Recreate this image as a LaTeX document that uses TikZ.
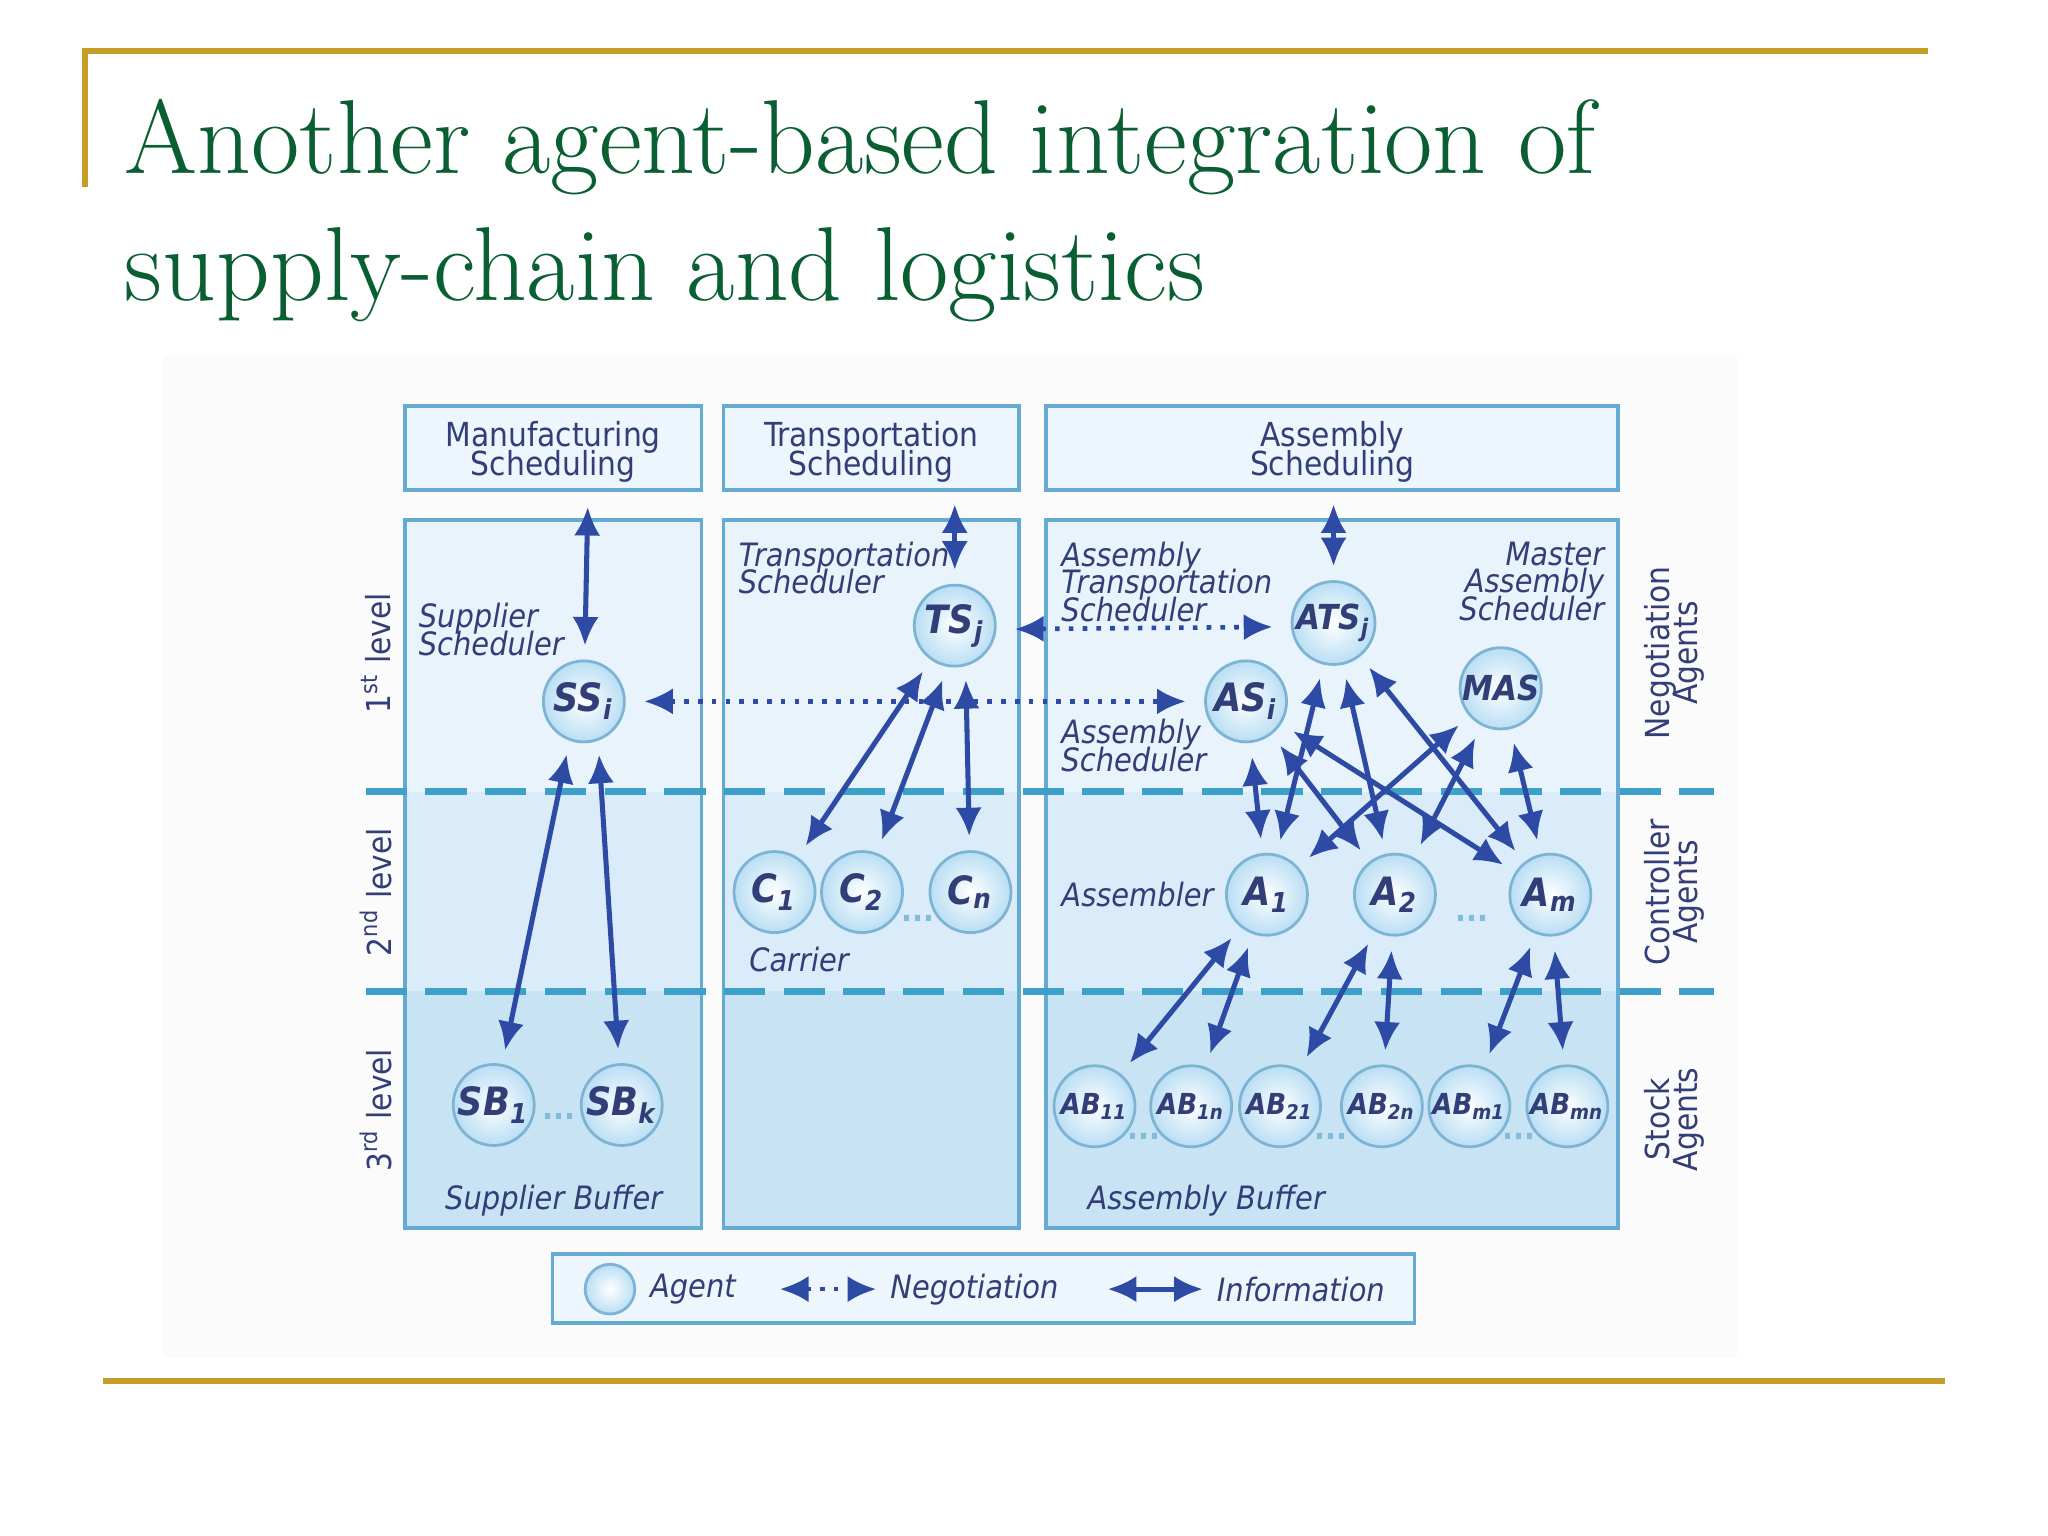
\documentclass[tikz,border=0pt]{standalone}
\usepackage{fontspec}
\newfontfamily\dsans{DejaVu Sans Condensed}
\usetikzlibrary{arrows.meta}
\definecolor{gold}{RGB}{196,158,40}
\definecolor{tgreen}{RGB}{10,95,50}
\definecolor{navy}{RGB}{50,62,120}
\definecolor{arr}{RGB}{45,75,165}
\definecolor{bord}{RGB}{100,170,210}
\definecolor{hdr}{RGB}{236,246,252}
\definecolor{lone}{RGB}{232,243,251}
\definecolor{ltwo}{RGB}{218,236,249}
\definecolor{lthree}{RGB}{200,227,244}
\definecolor{dashcol}{RGB}{60,160,200}
\definecolor{agfill}{RGB}{185,222,244}
\definecolor{agbord}{RGB}{125,180,212}
\tikzset{
 agent/.style={circle,draw=agbord,line width=0.6pt,inner color=white,outer color=agfill,minimum size=0.62cm,inner sep=0pt,font=\dsans\bfseries\itshape\fontsize{8.5}{9}\selectfont,text=navy},
 smallagent/.style={agent,font=\dsans\bfseries\itshape\fontsize{6.3}{7}\selectfont},
 hbox/.style={draw=bord,line width=0.8pt,fill=hdr},
 lbl/.style={font=\dsans\itshape\fontsize{7}{7}\selectfont,text=navy,inner sep=0pt,align=left},
 hlbl/.style={font=\dsans\fontsize{7.2}{7.2}\selectfont,text=navy,inner sep=0pt,align=center},
 side/.style={font=\dsans\fontsize{7.2}{7.2}\selectfont,text=navy,inner sep=0pt,align=center,rotate=90},
 info/.style={draw=arr,line width=1.1pt,{Latex[length=2.2mm,width=2mm]}-{Latex[length=2.2mm,width=2mm]},shorten <=3pt,shorten >=3pt},
 nego/.style={draw=arr,line width=1pt,dotted,{Latex[length=2.2mm,width=2mm]}-{Latex[length=2.2mm,width=2mm]},shorten <=4pt,shorten >=4pt},
 dots/.style={font=\dsans\bfseries\fontsize{7}{7}\selectfont,text=bord!80!white,inner sep=0pt},
 levelline/.style={dashcol,line width=1.6pt,dash pattern=on 9pt off 4pt}
}
\begin{document}
\begin{tikzpicture}[x=0.01cm,y=-0.01cm]
\useasboundingbox (0,0) rectangle (1568,1176);
\fill[white] (0,0) rectangle (1568,1176);
% frame lines
\draw[gold,line width=1.3pt] (65,143) -- (65,39) -- (1476,39);
\draw[gold,line width=1.3pt] (79,1057) -- (1489,1057);
% title
\node[anchor=base west,inner sep=0pt,text=tgreen,font=\fontsize{22.9}{28}\selectfont] (t1) at (95,133) {Another agent-based integration of};
\node[anchor=base west,inner sep=0pt,text=tgreen,font=\fontsize{22.9}{28}\selectfont] (t2) at (95,230) {supply-chain and logistics};
% faint background
\fill[black!1.5] (125,272) rectangle (1330,1040);
% header boxes
\draw[hbox] (310,311) rectangle (537,375);
\draw[hbox] (554,311) rectangle (780,375);
\draw[hbox] (801,311) rectangle (1239,375);
\node[hlbl] (mfg) at (423.5,346) {Manufacturing\\[-1pt]Scheduling};
\node[hlbl] (trs) at (667,346) {Transportation\\[-1pt]Scheduling};
\node[hlbl] (asm) at (1020,346) {Assembly\\[-1pt]Scheduling};
\coordinate (mfgb) at (450,388);
\coordinate (trsb) at (731,386);
\coordinate (asmb) at (1021,386);
% columns
\foreach \a/\b in {310/537,554/780,801/1239}{
 \fill[lone] (\a,398) rectangle (\b,606);
 \fill[ltwo] (\a,606) rectangle (\b,759);
 \fill[lthree] (\a,759) rectangle (\b,940);
 \draw[bord,line width=0.8pt] (\a,398) rectangle (\b,940);
}
% dashed level lines
\draw[levelline] (280,606) -- (1312,606);
\draw[levelline] (280,759) -- (1312,759);
% side labels
\node[side] (l1) at (288,500) {1\textsuperscript{st} level};
\node[side] (l2) at (288,683) {2\textsuperscript{nd} level};
\node[side] (l3) at (288,850) {3\textsuperscript{rd} level};
\node[side] (r1) at (1282,500) {Negotiation\\[-1pt]Agents};
\node[side] (r2) at (1282,683) {Controller\\[-1pt]Agents};
\node[side] (r3) at (1282,857) {Stock\\[-1pt]Agents};
% text labels
\node[lbl,anchor=north west] (suplbl) at (320,461) {Supplier\\[-1pt]Scheduler};
\node[lbl,anchor=north west] (tslbl) at (565,414) {Transportation\\[-1pt]Scheduler};
\node[lbl,anchor=north west] (atslbl) at (812,414) {Assembly\\[-1pt]Transportation\\[-1pt]Scheduler};
\node[lbl,anchor=north east,align=right] (maslbl) at (1229,414) {Master\\[-1pt]Assembly\\[-1pt]Scheduler};
\node[lbl,anchor=north west] (aslbl) at (812,550) {Assembly\\[-1pt]Scheduler};
\node[lbl,anchor=west] (asmlbl) at (812,685) {Assembler};
\node[lbl,anchor=west] (carlbl) at (573,735) {Carrier};
\node[lbl] (sbuf) at (424,919) {Supplier Buffer};
\node[lbl,anchor=west] (abuf) at (832,919) {Assembly Buffer};
% agents
\node[agent] (SS) at (447,537) {SS\textsubscript{i}};
\node[agent] (TS) at (731,479) {TS\textsubscript{j}};
\node[agent,font=\dsans\bfseries\itshape\fontsize{7.5}{8}\selectfont] (ATS) at (1021,477) {ATS\textsubscript{j}};
\node[agent] (AS) at (954,537) {AS\textsubscript{i}};
\node[agent,font=\dsans\bfseries\itshape\fontsize{7.5}{8}\selectfont] (MAS) at (1149,527) {MAS};
\node[agent] (C1) at (593,683) {C\textsubscript{1}};
\node[agent] (C2) at (660,683) {C\textsubscript{2}};
\node[agent] (Cn) at (743,683) {C\textsubscript{n}};
\node[agent] (A1) at (970,685) {A\textsubscript{1}};
\node[agent] (A2) at (1068,685) {A\textsubscript{2}};
\node[agent] (Am) at (1187,685) {A\textsubscript{m}};
\node[agent] (SB1) at (378,846) {SB\textsubscript{1}};
\node[agent] (SBk) at (476,846) {SB\textsubscript{k}};
\node[smallagent] (AB11) at (838,847) {AB\textsubscript{11}};
\node[smallagent] (AB1n) at (912,847) {AB\textsubscript{1n}};
\node[smallagent] (AB21) at (980,847) {AB\textsubscript{21}};
\node[smallagent] (AB2n) at (1058,847) {AB\textsubscript{2n}};
\node[smallagent] (ABm1) at (1125,847) {AB\textsubscript{m1}};
\node[smallagent] (ABmn) at (1200,847) {AB\textsubscript{mn}};
% dots
\node[dots] (d1) at (703,703) {...};
\node[dots] (d2) at (428,855) {...};
\node[dots] (d3) at (1127,703) {...};
\node[dots] (d4) at (876,870) {...};
\node[dots] (d5) at (1019,870) {...};
\node[dots] (d6) at (1163,870) {...};
% info arrows
\draw[info,shorten <=0pt] (mfgb) -- (SS);
\draw[info,shorten <=0pt] (trsb) -- (TS);
\draw[info,shorten <=0pt] (asmb) -- (ATS);
\draw[info] (SS.250) -- (SB1);
\draw[info] (SS.290) -- (SBk);
\draw[info] (TS.235) -- (C1);
\draw[info] (TS.260) -- (C2);
\draw[info] (TS.285) -- (Cn);
\foreach \s in {AS,ATS,MAS}{
 \foreach \t in {A1,A2,Am}{
  \draw[info] (\s) -- (\t);
 }
}
\draw[info] (A1) -- (AB11);
\draw[info] (A1) -- (AB1n);
\draw[info] (A2) -- (AB21);
\draw[info] (A2) -- (AB2n);
\draw[info] (Am) -- (ABm1);
\draw[info] (Am) -- (ABmn);
% negotiation
\draw[nego] (SS) -- (AS);
\draw[nego] (TS.-5) -- (ATS.185);
% legend
\draw[hbox,fill=hdr] (423,960) rectangle (1083,1013);
\node[agent,minimum size=0.38cm] (lag) at (467,987) {};
\node[lbl,anchor=west] (lagt) at (497,987) {Agent};
\coordinate (ln1) at (597,987);
\coordinate (ln2) at (671,987);
\draw[nego,shorten <=0pt,shorten >=0pt] (ln1) -- (ln2);
\node[lbl,anchor=west] (lngt) at (681,987) {Negotiation};
\coordinate (li1) at (848,987);
\coordinate (li2) at (921,987);
\draw[info,shorten <=0pt,shorten >=0pt] (li1) -- (li2);
\node[lbl,anchor=west] (linf) at (931,987) {Information};
\end{tikzpicture}
\end{document}
